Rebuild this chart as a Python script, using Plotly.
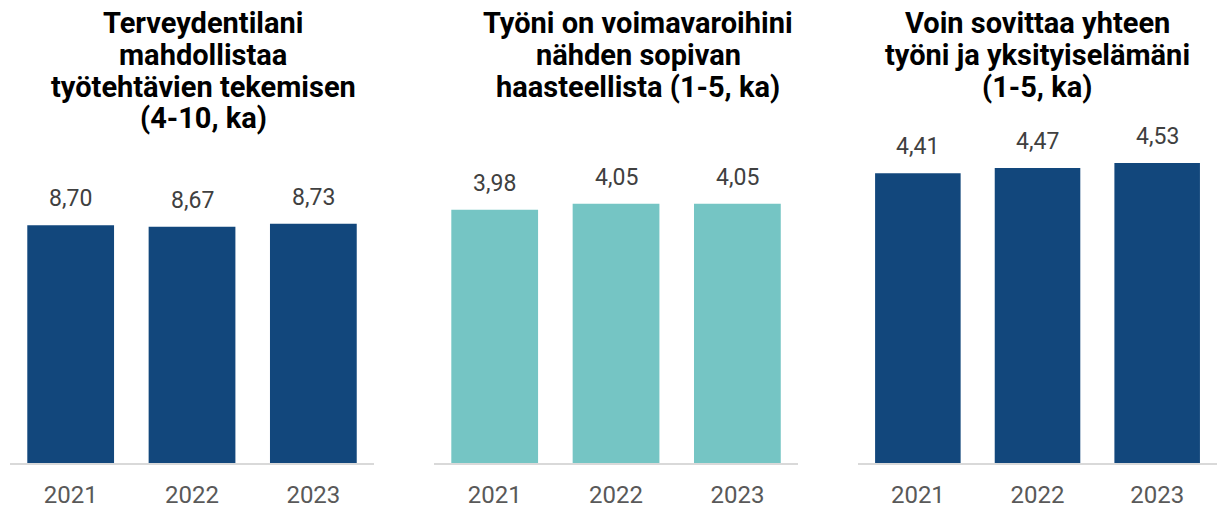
import plotly.graph_objects as go

years = ["2021", "2022", "2023"]
title_lines = [
    ["Terveydentilani", "mahdollistaa", "työtehtävien tekemisen", "(4-10, ka)"],
    ["Työni on voimavaroihini", "nähden sopivan", "haasteellista (1-5, ka)"],
    ["Voin sovittaa yhteen", "työni ja yksityiselämäni", "(1-5, ka)"],
]
health = [8.70, 8.67, 8.73]
challenge = [3.98, 4.05, 4.05]
balance = [4.41, 4.47, 4.53]

series = [health, challenge, balance]
colors = ["#12477C", "#75C5C4", "#12477C"]
yranges = [[4, 10.72], [1, 5], [1, 5]]
domains = [[0.0, 0.3016], [0.3513, 0.6529], [0.7026, 1.0]]
title_x = [203, 638, 1037]

W, H = 1217, 508
ml, mr, mt, mb = 10, 0, 123, 45
pw = W - ml - mr
ph = H - mt - mb
line_step = 31.7
first_baseline = 33.3

pos = list(range(len(years)))

fig = go.Figure()
for i, vals in enumerate(series):
    n = "" if i == 0 else str(i + 1)
    fig.add_trace(go.Bar(
        x=pos, y=vals, width=0.715,
        marker=dict(color=colors[i], line=dict(width=0)),
        xaxis="x" + n, yaxis="y" + n, showlegend=False, hoverinfo="skip",
    ))
    for p, v in zip(pos, vals):
        fig.add_annotation(
            x=p, y=v, xref="x" + n, yref="y" + n,
            text=f"{v:.2f}".replace(".", ","), showarrow=False,
            xanchor="center", yanchor="bottom", yshift=11,
            font=dict(family="Roboto", size=23, color="#404040"),
        )
    for k, line in enumerate(title_lines[i]):
        baseline = first_baseline + k * line_step
        cy = baseline - 10
        fig.add_annotation(
            x=(title_x[i] - ml) / pw, y=1 + (mt - cy) / ph,
            xref="paper", yref="paper",
            text="<b>" + line + "</b>", showarrow=False,
            xanchor="center", yanchor="middle", align="center",
            font=dict(family="Roboto", size=29, color="#000000"),
        )
    fig.update_layout(**{
        "xaxis" + n: dict(domain=domains[i], anchor="y" + n, type="linear",
                          range=[-0.5, 2.5], tickmode="array",
                          tickvals=pos, ticktext=years,
                          showline=True, linecolor="#d9d9d9", linewidth=1.5,
                          ticks="outside", ticklen=9, tickcolor="rgba(0,0,0,0)",
                          tickfont=dict(family="Roboto", size=24, color="#595959"),
                          showgrid=False, zeroline=False),
        "yaxis" + n: dict(range=yranges[i], anchor="x" + n, visible=False,
                          showgrid=False, zeroline=False),
    })

fig.update_layout(
    width=W, height=H,
    margin=dict(l=ml, r=mr, t=mt, b=mb),
    plot_bgcolor="white", paper_bgcolor="white",
    font=dict(family="Roboto"),
)
fig.write_html("out.html", config={"displayModeBar": False},
               post_script="document.body.style.margin='0';")
